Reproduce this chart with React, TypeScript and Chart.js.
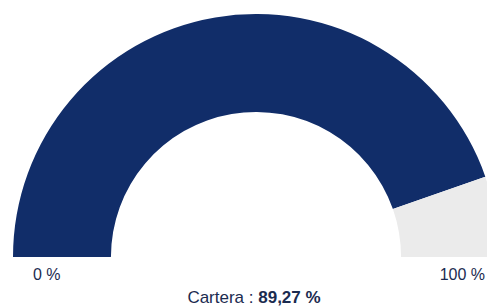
import React, { useEffect, useRef } from "react";
import { Chart, registerables } from "chart.js";

Chart.register(...registerables);

const categories = ["Cartera", "Resto"];
const values = [89.27, 10.73];
const colors = ["#112d69", "#ebebeb"];
const minLabel = "0 %";
const maxLabel = "100 %";
const titleLabel = "Cartera : ";
const titleValue = "89,27 %";

export default function App() {
  const ref = useRef<HTMLCanvasElement | null>(null);
  useEffect(() => {
    if (!ref.current) return;
    const chart = new Chart(ref.current, {
      type: "doughnut",
      data: {
        labels: categories,
        datasets: [
          {
            data: values,
            backgroundColor: colors,
            borderWidth: 0,
            hoverOffset: 0,
          },
        ],
      },
      options: {
        responsive: false,
        animation: false,
        rotation: -90,
        circumference: 180,
        cutout: "59.7%",
        layout: { padding: 0 },
        plugins: { legend: { display: false }, tooltip: { enabled: false } },
      },
    });
    return () => chart.destroy();
  }, []);

  const textColor = "#1b2b50";
  const font = "'Liberation Sans', Arial, Helvetica, sans-serif";
  return (
    <div
      style={{
        position: "fixed",
        left: 0,
        top: 0,
        width: 487,
        height: 307,
        overflow: "hidden",
        background: "#fff",
        fontFamily: font,
        color: textColor,
      }}
    >
      <canvas
        ref={ref}
        width={486}
        height={243}
        style={{ position: "absolute", left: 13, top: 14, width: 486, height: 243 }}
      />
      <div style={{ position: "absolute", left: 33, top: 267, fontSize: 16, lineHeight: "16px", whiteSpace: "nowrap" }}>
        {minLabel}
      </div>
      <div style={{ position: "absolute", right: 2, top: 267, fontSize: 16, lineHeight: "16px", whiteSpace: "nowrap", textAlign: "right" }}>
        {maxLabel}
      </div>
      <div style={{ position: "absolute", left: 0, width: 508, top: 289, fontSize: 17, lineHeight: "17px", whiteSpace: "nowrap", textAlign: "center" }}>
        {titleLabel}
        <b>{titleValue}</b>
      </div>
    </div>
  );
}
